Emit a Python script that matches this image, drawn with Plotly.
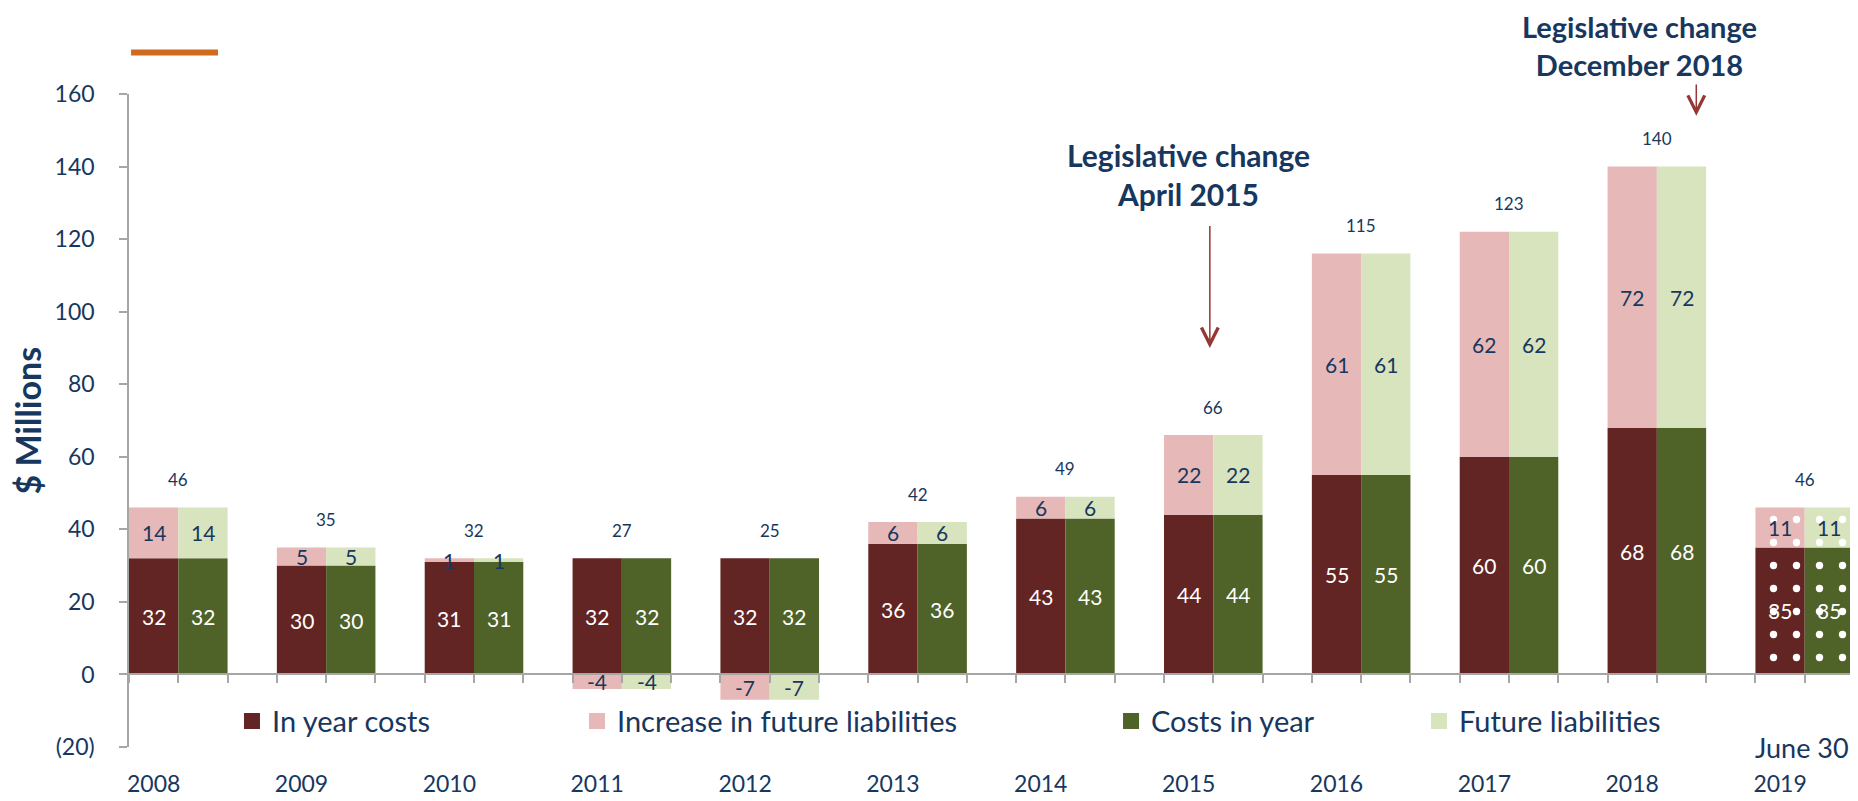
import plotly.graph_objects as go

# ---- data ----
years = ["2008", "2009", "2010", "2011", "2012", "2013", "2014", "2015", "2016", "2017", "2018", "2019"]
in_year_costs = [32, 30, 31, 32, 32, 36, 43, 44, 55, 60, 68, 35]
increase_future = [14, 5, 1, -4, -7, 6, 6, 22, 61, 62, 72, 11]
totals = [46, 35, 32, 27, 25, 42, 49, 66, 115, 123, 140, 46]
y_ticks = [-20, 0, 20, 40, 60, 80, 100, 120, 140, 160]
partial_year = "2019"

# ---- styling ----
NAVY = "#17375E"
MAROON = "#632523"
PINK = "#E6B9B8"
OLIVE = "#4F6228"
LGREEN = "#D7E4BD"
GREY = "#A6A6A6"
ARROW = "#953735"
FONT = "Lato"

n = len(years)
x_a = [3 * i for i in range(n)]        # first bar of each pair
x_b = [3 * i + 1 for i in range(n)]    # second bar of each pair
x_mid = [3 * i + 0.5 for i in range(n)]
patt = ["." if y == partial_year else "" for y in years]
pattern = dict(shape=patt, fillmode="overlay", fgcolor="white", fgopacity=1, size=23, solidity=0.08)

fig = go.Figure()
fig.add_trace(go.Bar(x=x_a, y=in_year_costs, width=1, marker=dict(color=MAROON, pattern=pattern, line=dict(width=0)),
                     name="In year costs", showlegend=False))
fig.add_trace(go.Bar(x=x_a, y=increase_future, width=1, marker=dict(color=PINK, pattern=pattern, line=dict(width=0)),
                     name="Increase in future liabilities", showlegend=False))
fig.add_trace(go.Bar(x=x_b, y=in_year_costs, width=1, marker=dict(color=OLIVE, pattern=pattern, line=dict(width=0)),
                     name="Costs in year", showlegend=False))
fig.add_trace(go.Bar(x=x_b, y=increase_future, width=1, marker=dict(color=LGREEN, pattern=pattern, line=dict(width=0)),
                     name="Future liabilities", showlegend=False))
# invisible helper so the year-label axis is drawn
fig.add_trace(go.Scatter(x=x_a, y=[0] * n, xaxis="x2", mode="markers", marker=dict(opacity=0),
                         showlegend=False, hoverinfo="skip"))

# legend proxies, each in its own legend box
legend_specs = [("In year costs", MAROON, "legend", 0.0597),
                ("Increase in future liabilities", PINK, "legend2", 0.2597),
                ("Costs in year", OLIVE, "legend3", 0.5693),
                ("Future liabilities", LGREEN, "legend4", 0.7478)]
legend_layout = {}
for name, col, lg, lx in legend_specs:
    fig.add_trace(go.Scatter(x=[None], y=[None], mode="markers", name=name, legend=lg,
                             marker=dict(symbol="square", size=18, color=col)))
    legend_layout[lg] = dict(x=lx, y=0.0394, xanchor="left", yanchor="middle", orientation="h",
                             bgcolor="rgba(0,0,0,0)", borderwidth=0,
                             font=dict(family=FONT, size=29, color=NAVY))

annotations = []
# segment labels
for xa, xb, c, d in zip(x_a, x_b, in_year_costs, increase_future):
    for xx in (xa, xb):
        annotations.append(dict(x=xx, y=c / 2, xref="x", yref="y", text=str(c), showarrow=False,
                                font=dict(family=FONT, size=21, color="white")))
        base = c if d > 0 else 0
        annotations.append(dict(x=xx, y=base + d / 2, xref="x", yref="y", text=str(d), showarrow=False,
                                font=dict(family=FONT, size=21, color=NAVY)))
# totals
for xm, c, d, t in zip(x_mid, in_year_costs, increase_future, totals):
    top = max(c, c + d)
    annotations.append(dict(x=xm, y=top, xref="x", yref="y", text=str(t), showarrow=False, yshift=28,
                            font=dict(family=FONT, size=17, color=NAVY)))

TITLE_FONT = dict(family=FONT, size=30, color=NAVY)
# legislative change notes
annotations += [
    dict(x=21.0, y=137.9, xref="x", yref="y", text="<b>Legislative change<br>April 2015</b>", showarrow=False,
         font=TITLE_FONT, yanchor="middle"),
    dict(x=21.43, y=90, ax=21.43, ay=124, xref="x", yref="y", axref="x", ayref="y", text="",
         showarrow=True, arrowhead=5, arrowsize=2.2, arrowwidth=1.5, arrowcolor=ARROW),
    dict(x=30.15, y=1.075, xref="x", yref="paper", text="<b>Legislative change<br>December 2018</b>",
         showarrow=False, font=dict(family=FONT, size=29, color=NAVY), yanchor="middle"),
    dict(x=31.3, y=154, ax=31.3, ay=163, xref="x", yref="y", axref="x", ayref="y", text="",
         showarrow=True, arrowhead=5, arrowsize=2.2, arrowwidth=1.5, arrowcolor=ARROW),
    dict(x=33.45, y=-20, xref="x", yref="y", text="June 30", showarrow=False, yanchor="middle",
         font=dict(family=FONT, size=27, color=NAVY)),
    dict(x=-0.0591, y=0.5, xref="paper", yref="paper", text="<b>$ Millions</b>", showarrow=False,
         textangle=-90, font=dict(family=FONT, size=34, color=NAVY), xanchor="center", yanchor="middle"),
]

ymin, ymax = y_ticks[0], y_ticks[-1]
xr = [-0.5, 3 * (n - 1) + 1.5]
zero_pos = (0 - ymin) / (ymax - ymin)

# page body has an 8px margin: size & margins compensate so the plot area lands where intended
fig.update_layout(
    width=1850, height=793,
    margin=dict(l=121, r=4, t=86, b=47),
    paper_bgcolor="white", plot_bgcolor="white",
    barmode="relative",
    font=dict(family=FONT, color=NAVY),
    annotations=annotations,
    xaxis=dict(range=xr, anchor="free", position=zero_pos, showline=True, linecolor=GREY, linewidth=1.5,
               ticks="outside", ticklen=8, tickwidth=1.5, tickcolor=GREY,
               tickvals=[k - 0.5 for k in range(int(xr[1] + 1.5))], showticklabels=False,
               showgrid=False, zeroline=False),
    xaxis2=dict(range=xr, overlaying="x", anchor="y", side="bottom", showline=False, showgrid=False,
                zeroline=False, tickvals=x_a, ticktext=years, ticks="", ticklabelstandoff=21,
                tickfont=dict(family=FONT, size=23, color=NAVY)),
    yaxis=dict(range=[ymin, ymax], tickvals=y_ticks,
               ticktext=[f"({-v})" if v < 0 else str(v) for v in y_ticks],
               showline=True, linecolor=GREY, linewidth=1.5, ticks="outside", ticklen=8, tickwidth=1.5,
               tickcolor=GREY, showgrid=False, zeroline=False, ticklabelstandoff=20,
               tickfont=dict(family=FONT, size=23, color=NAVY)),
    shapes=[dict(type="line", xref="paper", yref="paper", x0=0.0012, x1=0.0516, y0=1.0636, y1=1.0636,
                 line=dict(color="#D06A1E", width=6))],
    **legend_layout,
)

fig.write_html("out.html")
